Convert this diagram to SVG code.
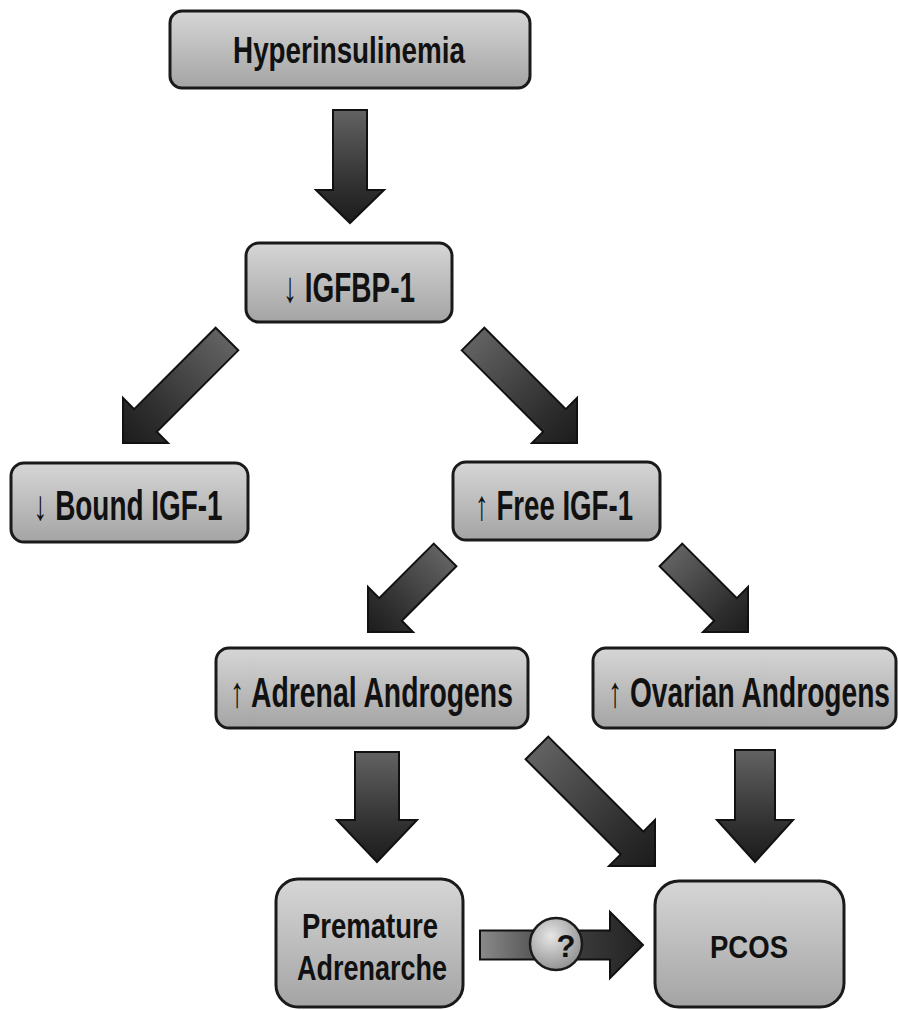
<svg xmlns="http://www.w3.org/2000/svg" width="898" height="1010" viewBox="0 0 898 1010">
<defs>
<linearGradient id="boxg" x1="0" y1="0" x2="0" y2="1">
<stop offset="0" stop-color="#d6d6d6"/>
<stop offset="1" stop-color="#a4a4a4"/>
</linearGradient>
<linearGradient id="arrg" x1="0" y1="0" x2="0" y2="1">
<stop offset="0" stop-color="#626262"/>
<stop offset="0.7" stop-color="#2e2e2e"/>
<stop offset="1" stop-color="#1c1c1c"/>
</linearGradient>
<linearGradient id="hzg" x1="0" y1="0" x2="0" y2="1">
<stop offset="0" stop-color="#8a8a8a"/>
<stop offset="0.45" stop-color="#444"/>
<stop offset="1" stop-color="#222"/>
</linearGradient>
<radialGradient id="cirg" cx="0.4" cy="0.35" r="0.7">
<stop offset="0" stop-color="#e6e6e6"/>
<stop offset="1" stop-color="#8e8e8e"/>
</radialGradient>
<style>
.box{fill:url(#boxg);stroke:#1a1a1a;stroke-width:3}
.arr{fill:url(#arrg);stroke:#111;stroke-width:2;stroke-linejoin:miter}
.t{font-family:"Liberation Sans",Arial,sans-serif;font-weight:bold;fill:#111;text-anchor:middle}
</style>
</defs>

<g id="connectors">
<polygon class="arr" transform="translate(350,223)" points="-17,-113 17,-113 17,-33 34,-33 0,0 -34,-33 -17,-33"/>
<polygon class="arr" transform="translate(123,443) rotate(45)" points="-16,-147 16,-147 16,-31.8 31.8,-31.8 0,0 -31.8,-31.8 -16,-31.8"/>
<polygon class="arr" transform="translate(577,443) rotate(-45)" points="-16,-147 16,-147 16,-31.8 31.8,-31.8 0,0 -31.8,-31.8 -16,-31.8"/>
<polygon class="arr" transform="translate(368,632) rotate(45)" points="-16,-109 16,-109 16,-31.8 31.8,-31.8 0,0 -31.8,-31.8 -16,-31.8"/>
<polygon class="arr" transform="translate(748,632) rotate(-45)" points="-16,-109 16,-109 16,-31.8 31.8,-31.8 0,0 -31.8,-31.8 -16,-31.8"/>
<polygon class="arr" transform="translate(377,862)" points="-22,-110 22,-110 22,-42 40,-42 0,0 -40,-42 -22,-42"/>
<polygon class="arr" transform="translate(655,866) rotate(-45)" points="-16,-167 16,-167 16,-32.5 32.5,-32.5 0,0 -32.5,-32.5 -16,-32.5"/>
<polygon class="arr" transform="translate(755,862)" points="-20,-112 20,-112 20,-42 38,-42 0,0 -38,-42 -20,-42"/>
<polygon class="arr" style="fill:url(#hzg)" transform="translate(643,945) rotate(-90)" points="-14.5,-163 14.5,-163 14.5,-33 33,-33 0,0 -33,-33 -14.5,-33"/>
<g id="question">
<circle cx="556" cy="944" r="26" fill="url(#cirg)" stroke="#1a1a1a" stroke-width="2.5"/>
<text class="t" x="566" y="957" font-size="31">?</text>
</g>
</g>

<g id="n-hyper">
<rect class="box" x="170" y="11" width="360" height="77" rx="12"/>
<text class="t" transform="translate(349,63) scale(0.773,1)" font-size="36" textLength="300" lengthAdjust="spacingAndGlyphs">Hyperinsulinemia</text>
</g>
<g id="n-igfbp">
<rect class="box" x="246" y="243" width="206" height="79" rx="13"/>
<text class="t" transform="translate(349,302) scale(0.65,1)" font-size="43" textLength="203" lengthAdjust="spacingAndGlyphs">↓ IGFBP-1</text>
</g>
<g id="n-bound">
<rect class="box" x="11" y="463" width="237" height="79" rx="13"/>
<text class="t" transform="translate(128,520) scale(0.664,1)" font-size="42" textLength="284.7" lengthAdjust="spacingAndGlyphs">↓ Bound IGF-1</text>
</g>
<g id="n-free">
<rect class="box" x="453" y="462" width="207" height="78" rx="13"/>
<text class="t" transform="translate(554,520) scale(0.657,1)" font-size="42" textLength="240.4" lengthAdjust="spacingAndGlyphs">↑ Free IGF-1</text>
</g>
<g id="n-adrenal">
<rect class="box" x="216" y="648" width="312" height="80" rx="13"/>
<text class="t" transform="translate(371.5,707) scale(0.654,1)" font-size="43" textLength="432.5" lengthAdjust="spacingAndGlyphs">↑ Adrenal Androgens</text>
</g>
<g id="n-ovarian">
<rect class="box" x="593" y="648" width="303" height="80" rx="13"/>
<text class="t" transform="translate(749,707) scale(0.652,1)" font-size="43" textLength="432.5" lengthAdjust="spacingAndGlyphs">↑ Ovarian Androgens</text>
</g>
<g id="n-premature">
<rect class="box" x="276" y="879" width="187" height="128" rx="22"/>
<text class="t" transform="translate(370,938) scale(0.786,1)" font-size="35" textLength="173.1" lengthAdjust="spacingAndGlyphs">Premature</text>
<text class="t" transform="translate(372,980) scale(0.771,1)" font-size="35" textLength="194.5" lengthAdjust="spacingAndGlyphs">Adrenarche</text>
</g>
<g id="n-pcos">
<rect class="box" x="655" y="881" width="189" height="126" rx="24"/>
<text class="t" transform="translate(749,958) scale(0.86,1)" font-size="32" textLength="90.7" lengthAdjust="spacingAndGlyphs">PCOS</text>
</g>
</svg>
